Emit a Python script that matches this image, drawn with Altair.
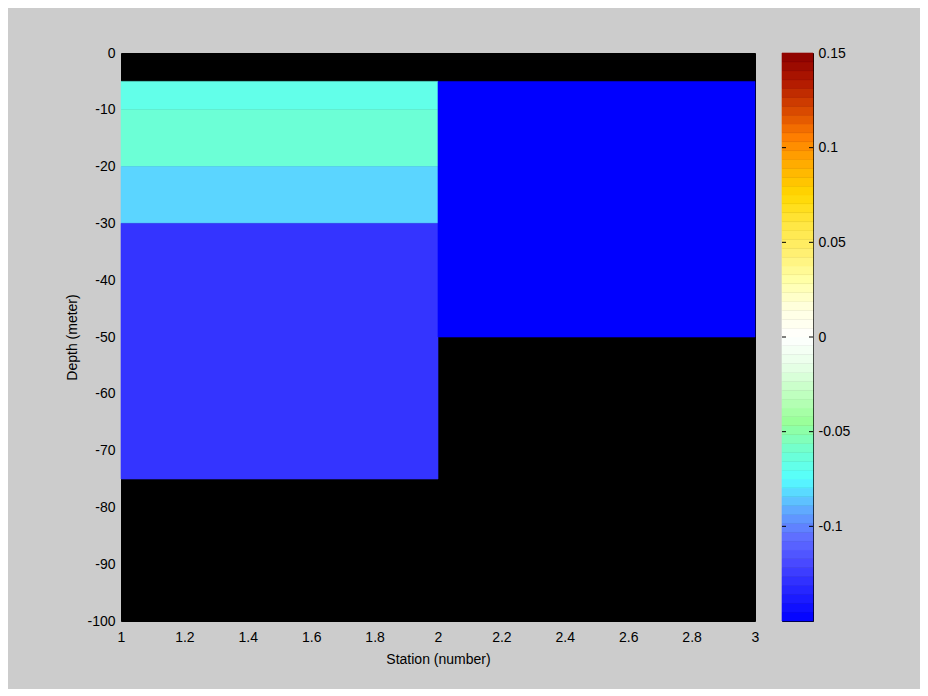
import altair as alt
import pandas as pd
import numpy as np

# Cells of the section plot (station span, depth span, value); areas without cells are black
x0 = [1, 1, 1, 1, 2]
x1 = [2, 2, 2, 2, 3]
top = [-5, -10, -20, -30, -5]
bottom = [-10, -20, -30, -75, -50]
vals = [-0.068, -0.062, -0.083, -0.128, -0.15]

# colormap stops (value -> colour)
stops = [-0.15, -0.135, -0.12, -0.105, -0.09, -0.075, -0.06, -0.045, -0.03, -0.015, 0.0,
         0.015, 0.03, 0.045, 0.06, 0.075, 0.09, 0.105, 0.12, 0.135, 0.15]
stop_colors = ["#0000ff", "#2222ff", "#4848ff", "#6070ff", "#60b0ff", "#55ffff", "#70ffd0",
               "#99ff99", "#c0ffc0", "#e8ffe8", "#ffffff", "#ffffe0", "#ffffa8", "#fff070",
               "#ffe640", "#ffd800", "#ffb000", "#ff8000", "#d84800", "#b01800", "#8b0000"]

cbar_ticks = [-0.1, -0.05, 0, 0.05, 0.1, 0.15]
x_ticks = [1, 1.2, 1.4, 1.6, 1.8, 2, 2.2, 2.4, 2.6, 2.8, 3]
y_ticks = [0, -10, -20, -30, -40, -50, -60, -70, -80, -90, -100]

cells = pd.DataFrame({"x0": x0, "x1": x1, "top": top, "bottom": bottom, "value": vals})

n = 64
edges = np.linspace(-0.15, 0.15, n + 1)
cbar = pd.DataFrame({"lo": edges[:-1], "hi": edges[1:], "value": (edges[:-1] + edges[1:]) / 2})
ticks_df = pd.DataFrame({"v": [-0.1, -0.05, 0, 0.05, 0.1]})

FONT = "Liberation Sans"
color_scale = alt.Scale(domain=stops, range=stop_colors, interpolate="rgb")

main = alt.Chart(cells).mark_rect(strokeWidth=0.6).encode(
    x=alt.X("x0:Q", scale=alt.Scale(domain=[1, 3], nice=False, zero=False),
            axis=alt.Axis(values=x_ticks, title="Station (number)", grid=False, ticks=False,
                          labelPadding=9, labelFlush=False, titlePadding=8,
                          labelExpr="datum.value == 1 || datum.value == 2 || datum.value == 3 ? format(datum.value, 'd') : format(datum.value, '.1f')")),
    x2="x1:Q",
    y=alt.Y("top:Q", scale=alt.Scale(domain=[-100, 0], nice=False, zero=False),
            axis=alt.Axis(values=y_ticks, title="Depth (meter)", grid=False, ticks=False,
                          labelPadding=6, labelFlush=False, titlePadding=7,
                          labelExpr="datum.value < 0 ? '-' + format(-datum.value, 'd') : '0'")),
    y2="bottom:Q",
    color=alt.Color("value:Q", scale=color_scale, legend=None),
    stroke=alt.Color("value:Q", scale=color_scale, legend=None),
).properties(width=634, height=568)

bars = alt.Chart(cbar).mark_rect(strokeWidth=0.6).encode(
    y=alt.Y("lo:Q", scale=alt.Scale(domain=[-0.15, 0.15], nice=False, zero=False),
            axis=alt.Axis(orient="right", values=cbar_ticks, title=None, grid=False, ticks=False,
                          labelPadding=5, labelFlush=False,
                          labelExpr="datum.value < 0 ? '-' + format(-datum.value, '.2~f') : (datum.value == 0 ? '0' : format(datum.value, '.2~f'))")),
    y2="hi:Q",
    x=alt.value(0), x2=alt.value(31),
    color=alt.Color("value:Q", scale=color_scale, legend=None),
    stroke=alt.Color("value:Q", scale=color_scale, legend=None),
)
tl = alt.Chart(ticks_df).mark_rule(color="black", strokeWidth=1).encode(
    y="v:Q", x=alt.value(0), x2=alt.value(4))
tr = alt.Chart(ticks_df).mark_rule(color="black", strokeWidth=1).encode(
    y="v:Q", x=alt.value(27), x2=alt.value(31))
colorbar = alt.layer(bars, tl, tr).properties(width=31, height=568)

chart = alt.hconcat(main, colorbar, spacing=27, bounds="flush").resolve_scale(
    color="independent", y="independent", stroke="independent"
).properties(
    padding={"left": 57, "top": 37, "right": 69, "bottom": 22}
).configure(
    background="#cccccc", font=FONT
).configure_view(
    fill="black", stroke="black", strokeWidth=1
).configure_axis(
    labelFont=FONT, labelFontSize=14, labelColor="black",
    titleFont=FONT, titleFontSize=14, titleFontWeight="normal", titleColor="black",
    domain=False
)

chart.save("out.html", embed_options={"renderer": "svg", "actions": False})
